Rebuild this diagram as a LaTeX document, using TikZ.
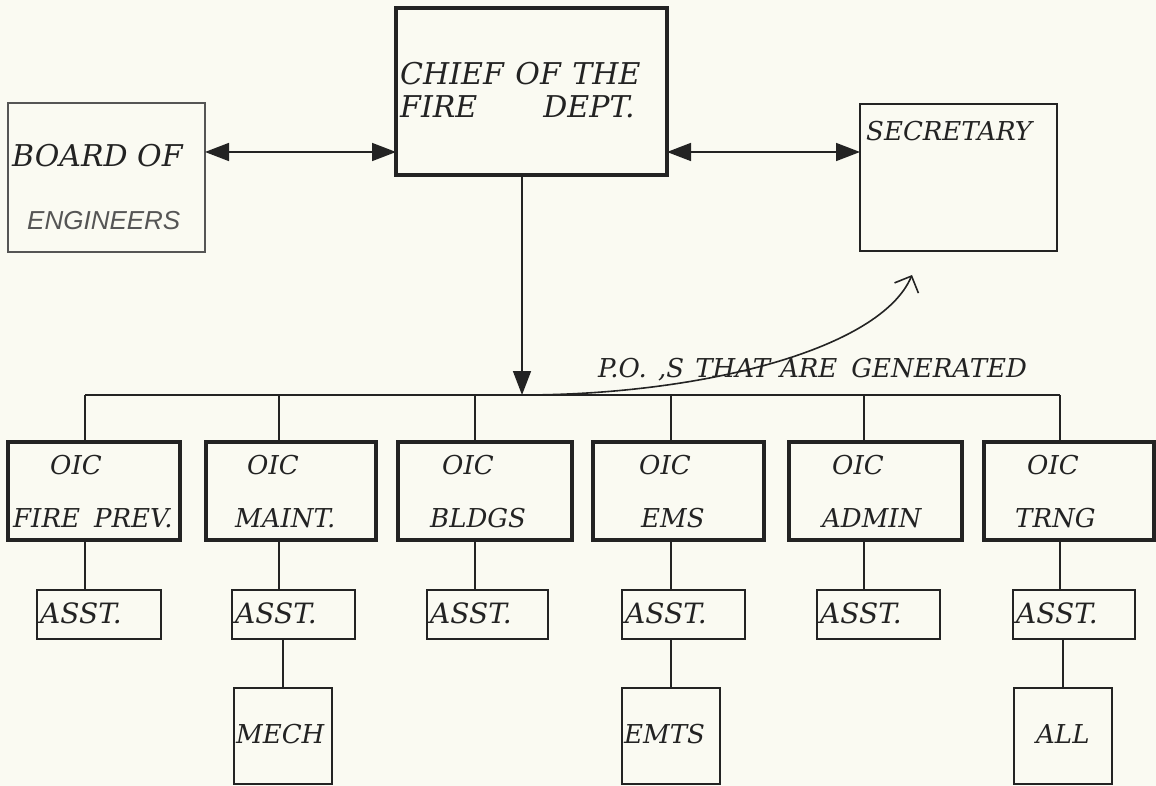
\documentclass[tikz,border=0pt]{standalone}
\usepackage{fontspec}
\setmainfont{DejaVu Serif}
\newfontfamily\sansfam{Liberation Sans}
\usetikzlibrary{arrows.meta}
\definecolor{ink}{RGB}{35,35,35}
\definecolor{inkgray}{RGB}{85,85,85}
\definecolor{paper}{RGB}{250,250,242}
\tikzset{
  box/.style={draw=ink, inner sep=0pt, outer sep=0pt},
  heavy/.style={box, line width=3.2pt},
  medium/.style={box, line width=2.2pt},
  light/.style={box, line width=1.8pt},
  faint/.style={box, draw=inkgray, line width=1.4pt},
  lbl/.style={anchor=base west, inner sep=0pt, text=ink, font=\fontsize{26}{26}\selectfont\itshape},
  big/.style={lbl, font=\fontsize{30}{30}\selectfont\itshape},
  wide/.style={lbl, font=\fontsize{28}{28}\selectfont\itshape},
  conn/.style={draw=ink, line width=1.6pt},
  tri/.tip={Triangle[length=24pt,width=18pt]}
}
\begin{document}
\begin{tikzpicture}[x=1pt,y=-1pt]
\fill[paper] (0,0) rectangle (1156,786);
\useasboundingbox (0,0) rectangle (1156,786);

% top row
\node[faint, minimum width=197, minimum height=149] (board) at (106.5,177.5) {};
\node[heavy, minimum width=271, minimum height=167] (chief) at (531.5,91.5) {};
\node[medium, minimum width=197, minimum height=147] (sec) at (958.5,177.5) {};

\node[big] (tboard) at (12,167) {BOARD OF};
\node[lbl, text=inkgray, font=\fontsize{26}{26}\selectfont\sansfam\itshape] (teng) at (27,230) {ENGINEERS};
\node[big] (tchief) at (400,85) {CHIEF\hspace{2pt} OF\hspace{2pt} THE};
\node[big] (tfire) at (400,118) {FIRE\hspace{66pt}DEPT.};
\node[lbl] (tsec) at (866,141) {SECRETARY};

\coordinate (ya) at (0,152);
\draw[conn, tri-tri] (board.east |- ya) -- (chief.west |- ya);
\draw[conn, tri-tri] (chief.east |- ya) -- (sec.west |- ya);

% bus
\coordinate (j) at (522,395);
\coordinate (d1) at (85,395);
\coordinate (d2) at (279,395);
\coordinate (d3) at (475,395);
\coordinate (d4) at (671,395);
\coordinate (d5) at (864,395);
\coordinate (d6) at (1060,395);
\draw[conn, -tri] (chief.south -| j) -- (j);
\draw[conn] (d1) -- (d6);

% curved arrow
\coordinate (ce) at (912,275);
\draw[conn, -{Straight Barb[length=13pt,width=26pt]}] (j) .. controls (700,395) and (880,350) .. (ce);
\node[lbl] (tpo) at (598,377) {P.O.\hspace{3pt} ,S\hspace{3pt} THAT\hspace{10pt}ARE\hspace{14pt}GENERATED};

% OIC boxes
\node[heavy, minimum width=172, minimum height=98] (o1) at (94,491) {};
\node[heavy, minimum width=170, minimum height=98] (o2) at (291,491) {};
\node[heavy, minimum width=174, minimum height=98] (o3) at (485,491) {};
\node[heavy, minimum width=171, minimum height=98] (o4) at (678.5,491) {};
\node[heavy, minimum width=173, minimum height=98] (o5) at (875.5,491) {};
\node[heavy, minimum width=170, minimum height=98] (o6) at (1069,491) {};

\node[lbl] (oic1) at (50,474) {OIC};
\node[lbl] (oic2) at (247,474) {OIC};
\node[lbl] (oic3) at (442,474) {OIC};
\node[lbl] (oic4) at (639,474) {OIC};
\node[lbl] (oic5) at (832,474) {OIC};
\node[lbl] (oic6) at (1027,474) {OIC};
\node[lbl] (n1) at (13,527) {FIRE\hspace{14pt}PREV.};
\node[lbl] (n2) at (235,527) {MAINT.};
\node[lbl] (n3) at (430,527) {BLDGS};
\node[lbl] (n4) at (641,527) {EMS};
\node[lbl] (n5) at (822,527) {ADMIN};
\node[lbl] (n6) at (1015,527) {TRNG};

\foreach \i in {1,...,6} {
  \draw[conn] (d\i) -- (d\i |- o\i.north);
}

% ASST boxes
\node[medium, minimum width=124, minimum height=49] (a1) at (99,614.5) {};
\node[medium, minimum width=123, minimum height=49] (a2) at (293.5,614.5) {};
\node[medium, minimum width=121, minimum height=49] (a3) at (487.5,614.5) {};
\node[medium, minimum width=123, minimum height=49] (a4) at (683.5,614.5) {};
\node[medium, minimum width=123, minimum height=49] (a5) at (878.5,614.5) {};
\node[medium, minimum width=122, minimum height=49] (a6) at (1074,614.5) {};

\node[wide] (s1) at (40,623) {ASST.};
\node[wide] (s2) at (235,623) {ASST.};
\node[wide] (s3) at (430,623) {ASST.};
\node[wide] (s4) at (625,623) {ASST.};
\node[wide] (s5) at (820,623) {ASST.};
\node[wide] (s6) at (1016,623) {ASST.};

\foreach \i in {1,...,6} {
  \draw[conn] (o\i.south -| d\i) -- (a\i.north -| d\i);
}

% lower boxes
\node[light, minimum width=98, minimum height=96] (mech) at (283,736) {};
\node[light, minimum width=98, minimum height=96] (emts) at (671,736) {};
\node[light, minimum width=98, minimum height=96] (all) at (1063,736) {};
\node[lbl] (tm) at (236,743) {MECH};
\node[lbl] (te) at (624,743) {EMTS};
\node[lbl] (tl) at (1036,743) {ALL};

\draw[conn] (a2.south -| mech.north) -- (mech.north);
\draw[conn] (a4.south -| emts.north) -- (emts.north);
\draw[conn] (a6.south -| all.north) -- (all.north);
\end{tikzpicture}
\end{document}
